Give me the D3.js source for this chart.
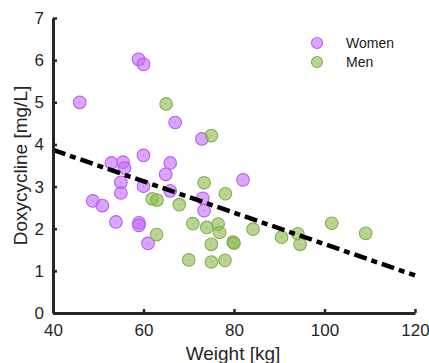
<!DOCTYPE html>
<html>
<head>
<meta charset="utf-8">
<script src="https://cdn.jsdelivr.net/npm/d3@7"></script>
<style>
  body { margin: 0; background: #fff; }
  svg { display: block; font-family: "Liberation Sans", Arial, sans-serif; }
</style>
</head>
<body>
<div class="container"></div>
<script>
// women: weight [kg] and doxycycline [mg/L]
const womenWeight = [58.9, 60.0, 45.9, 67.0, 72.9, 52.9, 55.5, 55.8, 60.0, 65.9, 64.9, 55.0, 55.0, 60.0, 65.9, 48.8, 50.9, 53.9, 59.0, 59.0, 61.0, 82.0, 73.1, 73.4];
const womenDoxy   = [6.02, 5.90, 5.00, 4.52, 4.13, 3.56, 3.58, 3.44, 3.74, 3.56, 3.29, 3.10, 2.85, 3.01, 2.90, 2.66, 2.55, 2.16, 2.14, 2.08, 1.65, 3.16, 2.72, 2.43];

// men
const menWeight = [65.0, 75.0, 61.9, 63.0, 67.9, 62.9, 73.4, 78.1, 70.9, 74.0, 76.5, 76.8, 84.2, 79.8, 80.0, 75.0, 90.5, 94.1, 94.6, 70.0, 75.0, 78.0, 101.6, 109.1];
const menDoxy   = [4.96, 4.21, 2.71, 2.68, 2.57, 1.86, 3.09, 2.83, 2.12, 2.03, 2.11, 1.91, 1.99, 1.68, 1.66, 1.63, 1.80, 1.88, 1.63, 1.26, 1.21, 1.25, 2.13, 1.89];

// fitted line end points
const fitX = [40, 120];
const fitY = [3.87, 0.89];

const xTicks = [40, 60, 80, 100, 120];
const yTicks = [0, 1, 2, 3, 4, 5, 6, 7];

const groups = [
  { name: "Women", x: womenWeight, y: womenDoxy, fill: "rgba(196,112,255,0.62)", stroke: "#b85cf0" },
  { name: "Men", x: menWeight, y: menDoxy, fill: "rgba(140,188,80,0.62)", stroke: "#86b04e" }
];

const W = 429, H = 363;
const margin = { top: 18, right: 14, bottom: 50, left: 53 };
const width = W - margin.left - margin.right;
const height = H - margin.top - margin.bottom;
const axisColor = "#262626";

const svg = d3.select(".container").append("svg")
  .attr("width", W).attr("height", H);

const g = svg.append("g")
  .attr("transform", `translate(${margin.left}, ${margin.top})`);

const xScale = d3.scaleLinear().domain([40, 120]).range([0, width]);
const yScale = d3.scaleLinear().domain([0, 7]).range([height, 0]);

// scatter points
groups.forEach(grp => {
  const pts = grp.x.map((d, i) => [d, grp.y[i]]);
  const layer = g.append("g");
  layer.selectAll("circle.pt")
    .data(pts).enter().append("circle")
    .attr("class", "pt")
    .attr("cx", d => xScale(d[0]))
    .attr("cy", d => yScale(d[1]))
    .attr("r", 6.3)
    .attr("fill", grp.fill)
    .attr("stroke", grp.stroke)
    .attr("stroke-width", 1.1);
  layer.selectAll("circle.dot")
    .data(pts).enter().append("circle")
    .attr("class", "dot")
    .attr("cx", d => xScale(d[0]))
    .attr("cy", d => yScale(d[1]))
    .attr("r", 0.6)
    .attr("fill", grp.stroke);
});

// regression line
g.append("line")
  .attr("x1", xScale(fitX[0])).attr("y1", yScale(fitY[0]))
  .attr("x2", xScale(fitX[1])).attr("y2", yScale(fitY[1]))
  .attr("stroke", "#000")
  .attr("stroke-width", 4.5)
  .attr("stroke-dasharray", "13,5,6,5");

// axes, ticks pointing inward
const xAxis = d3.axisBottom(xScale).tickValues(xTicks).tickFormat(d3.format("d"))
  .tickSizeInner(-4).tickSizeOuter(0).tickPadding(11);
const yAxis = d3.axisLeft(yScale).tickValues(yTicks).tickFormat(d3.format("d"))
  .tickSizeInner(-4).tickSizeOuter(0).tickPadding(9);

const gx = g.append("g")
  .attr("transform", `translate(0, ${height})`)
  .call(xAxis);
const gy = g.append("g").call(yAxis);

[gx, gy].forEach(ax => {
  ax.select(".domain").attr("stroke", axisColor).attr("stroke-width", 3);
  ax.selectAll(".tick line").attr("stroke", axisColor).attr("stroke-width", 2.5);
  ax.selectAll(".tick text")
    .attr("fill", axisColor)
    .style("font-size", "17px")
    .style("font-family", "Liberation Sans, Arial, sans-serif");
});
gx.selectAll(".tick text").attr("dy", "0.71em");

// axis labels
svg.append("text")
  .attr("x", margin.left + width / 2 - 1)
  .attr("y", 360)
  .attr("text-anchor", "middle")
  .attr("fill", axisColor)
  .style("font-size", "19px")
  .text("Weight [kg]");

svg.append("text")
  .attr("transform", `translate(27, ${margin.top + height / 2}) rotate(-90)`)
  .attr("text-anchor", "middle")
  .attr("fill", axisColor)
  .style("font-size", "19px")
  .text("Doxycycline [mg/L]");

// legend
const legend = svg.append("g").attr("transform", "translate(317, 43)");
groups.forEach((grp, i) => {
  legend.append("circle")
    .attr("cx", 0).attr("cy", i * 19)
    .attr("r", 5.5)
    .attr("fill", grp.fill)
    .attr("stroke", grp.stroke)
    .attr("stroke-width", 1.1);
  legend.append("text")
    .attr("x", 29).attr("y", i * 19 + 5)
    .attr("fill", "#1a1a1a")
    .style("font-size", "14px")
    .text(grp.name);
});
</script>
</body>
</html>
